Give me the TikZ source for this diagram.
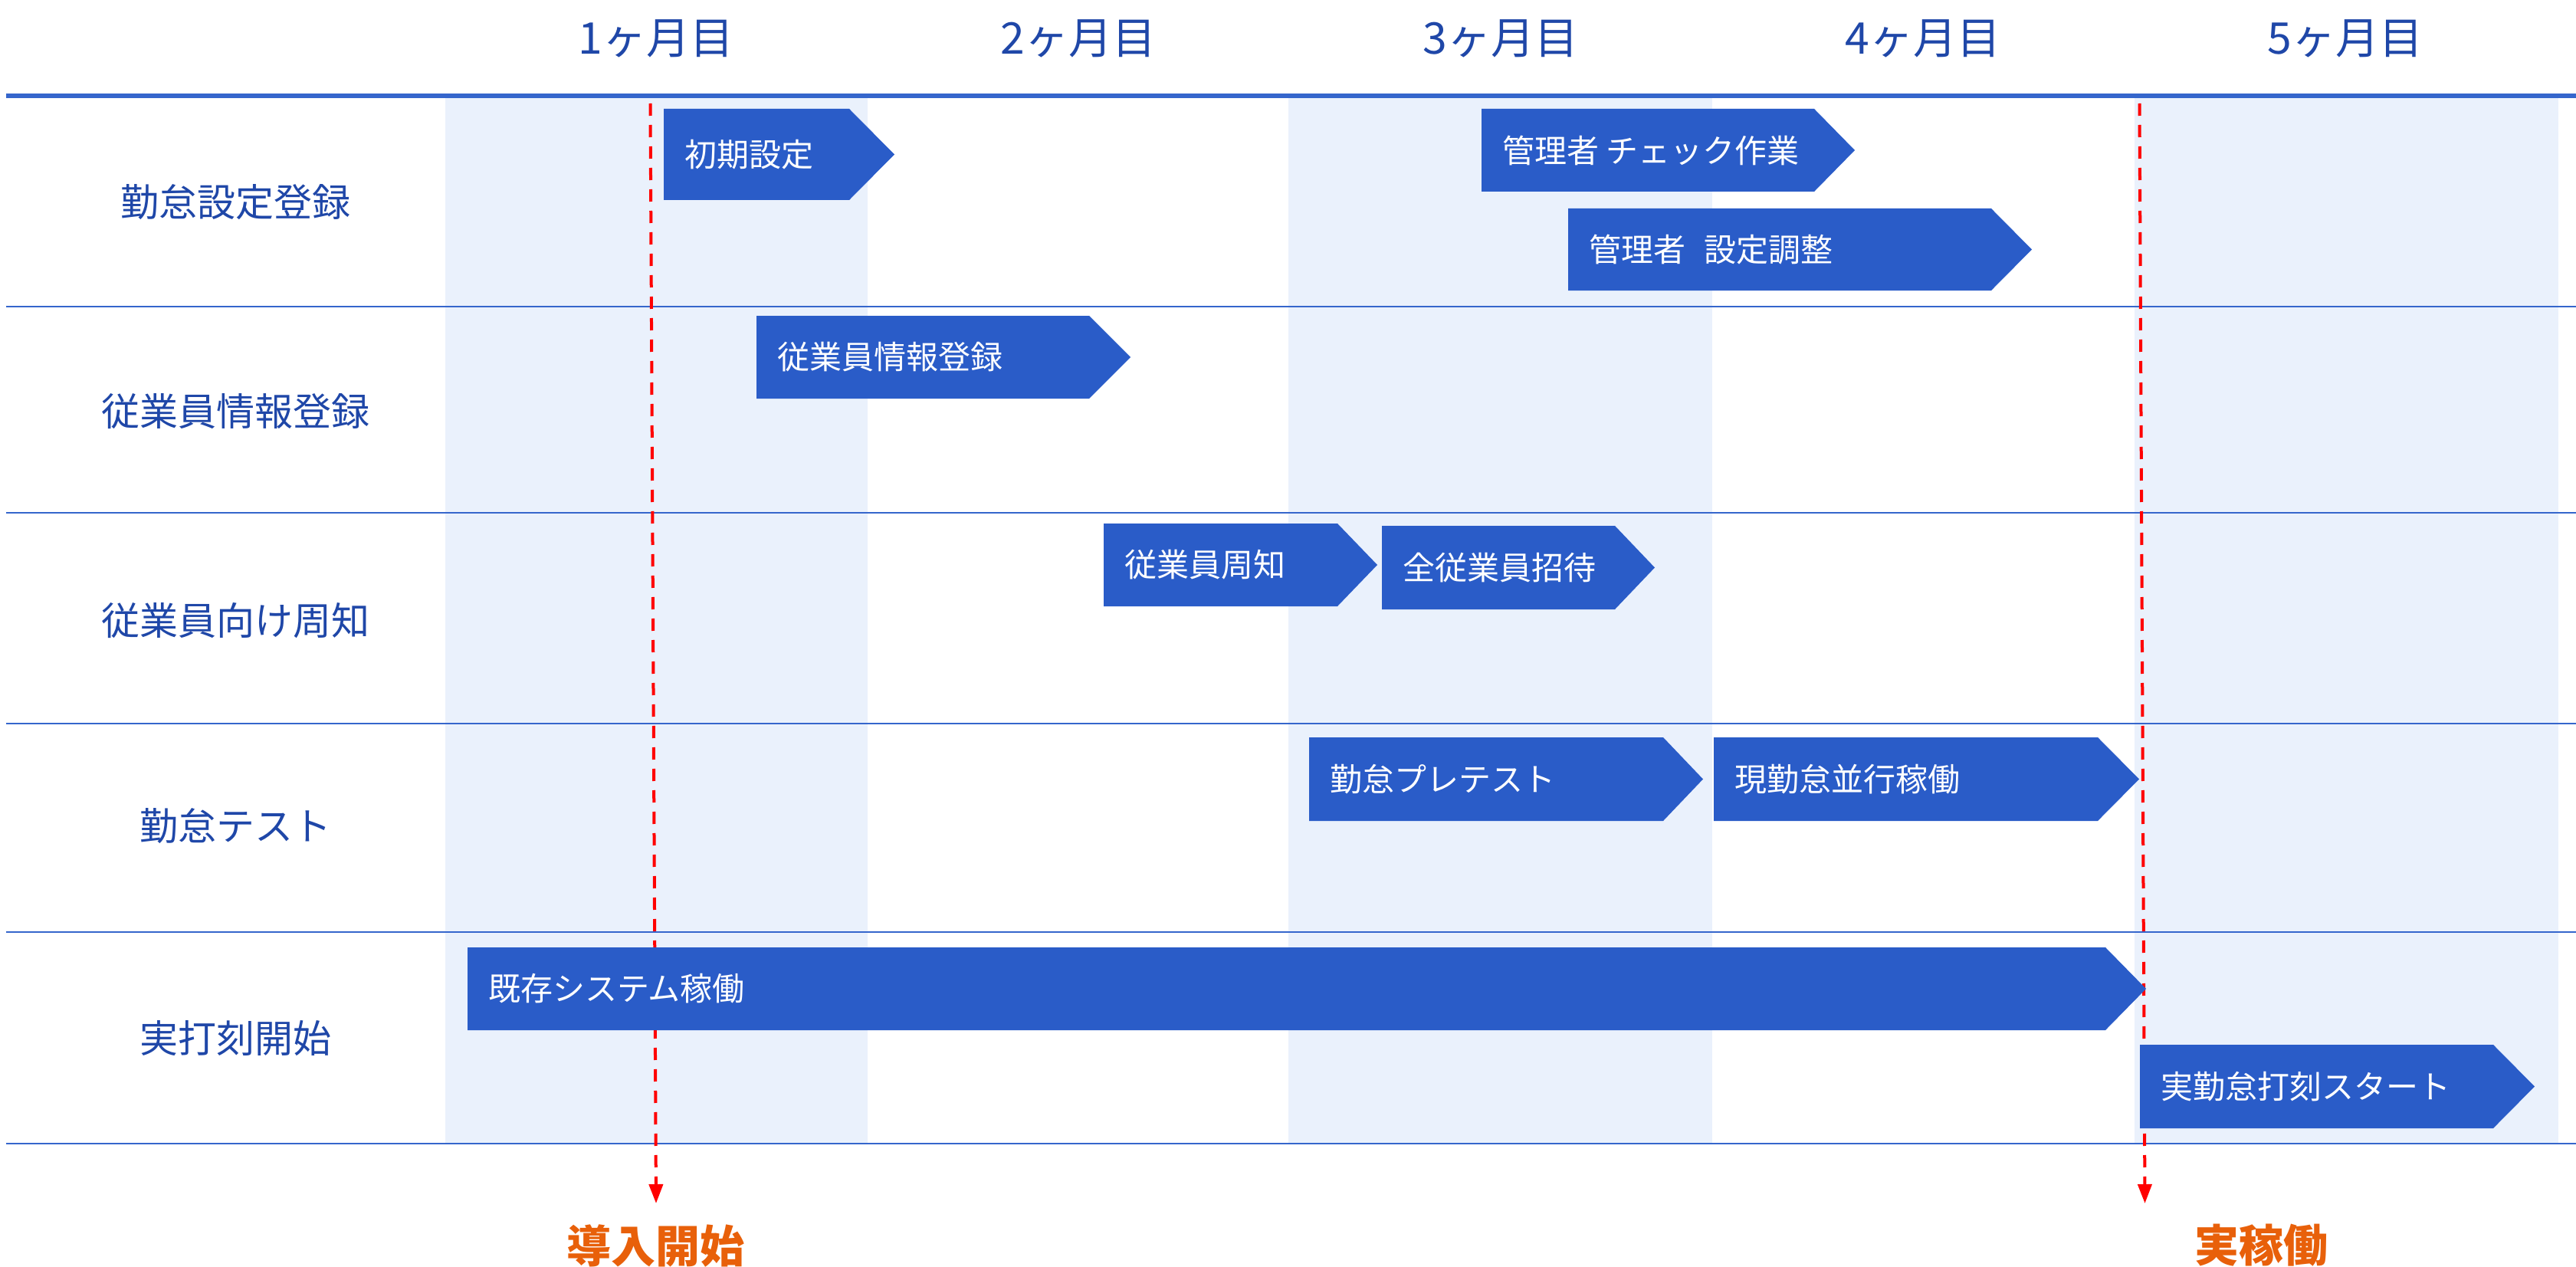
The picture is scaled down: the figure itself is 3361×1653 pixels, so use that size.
\documentclass[tikz,border=0pt]{standalone}
\usepackage{fontspec}
\setmainfont{Noto Sans CJK JP}
\usetikzlibrary{arrows.meta}
\definecolor{boxblue}{HTML}{2A5CC8}
\definecolor{labelblue}{HTML}{1F47A8}
\definecolor{lineblue}{HTML}{3566CC}
\definecolor{shadecol}{HTML}{EAF1FC}
\definecolor{mkred}{HTML}{FF0000}
\definecolor{mkorange}{HTML}{E8600A}
\tikzset{
  taskfill/.style={fill=boxblue},
  tasktext/.style={text=white, font=\fontsize{42}{50}\selectfont, inner sep=0pt, anchor=west},
  rowlabel/.style={text=labelblue, font=\fontsize{50}{60}\selectfont, inner sep=0pt},
  monthlabel/.style={text=labelblue, font=\fontsize{57}{68}\selectfont, inner sep=0pt},
  marklabel/.style={text=mkorange, font=\fontsize{58}{70}\selectfont\bfseries, inner sep=0pt},
  rowline/.style={draw=lineblue, line width=2.6pt},
  headline/.style={draw=lineblue, line width=6pt},
  shadeband/.style={fill=shadecol},
  markline/.style={draw=mkred, line width=4pt, dash pattern=on 16pt off 12pt, -{Triangle[length=25pt,width=18pt]}},
}
\newcommand\taskbar[7]{%
  \fill[taskfill] (#2,#5) -- (#3,#5) -- (#4,{(#5+#6)/2}) -- (#3,#6) -- (#2,#6) -- cycle;
  \node[tasktext] (#1) at ({#2+27},{(#5+#6)/2}) {#7};
}
\begin{document}
\begin{tikzpicture}[x=1pt,y=-1pt]
\useasboundingbox (0,0) rectangle (3361,1653);
\fill[white] (0,0) rectangle (3361,1653);
% shaded month bands
\fill[shadeband] (581,128) rectangle (1132,1492);
\fill[shadeband] (1681,128) rectangle (2234,1492);
\fill[shadeband] (2785,128) rectangle (3338,1492);
% grid lines
\coordinate (hl) at (8,125); \coordinate (hr) at (3361,125);
\draw[headline] (hl) -- (hr);
\foreach \yy/\nm in {400/a,669/b,944/c,1216/d,1492/e}{
  \coordinate (rl\nm) at (8,\yy); \coordinate (rr\nm) at (3361,\yy);
  \draw[rowline] (rl\nm) -- (rr\nm);
}
% month headers
\node[monthlabel] (m1) at (856,50) {1ヶ月目};
\node[monthlabel] (m2) at (1407,50) {2ヶ月目};
\node[monthlabel] (m3) at (1958,50) {3ヶ月目};
\node[monthlabel] (m4) at (2509,50) {4ヶ月目};
\node[monthlabel] (m5) at (3060,50) {5ヶ月目};
% row labels
\node[rowlabel] (r1) at (307,264) {勤怠設定登録};
\node[rowlabel] (r2) at (307,537) {従業員情報登録};
\node[rowlabel] (r3) at (307,810) {従業員向け周知};
\node[rowlabel] (r4) at (307,1078) {勤怠テスト};
\node[rowlabel] (r5) at (307,1355) {実打刻開始};
% milestone markers (behind the bars)
\coordinate (s1top) at (848.5,135); \coordinate (s1tip) at (856,1570);
\coordinate (s2top) at (2791.5,135); \coordinate (s2tip) at (2798.5,1570);
\draw[markline] (s1top) -- (s1tip);
\draw[markline] (s2top) -- (s2tip);
\node[marklabel] (lab1) at (855,1625) {導入開始};
\node[marklabel] (lab2) at (2950,1625) {実稼働};
% task bars
\taskbar{t1}{866}{1108}{1167}{142}{261}{初期設定}
\taskbar{t2}{1933}{2367}{2420}{142}{250}{管理者 チェック作業}
\taskbar{t3}{2046}{2598}{2651}{272}{379}{管理者\hspace{24pt}設定調整}
\taskbar{t4}{987}{1421}{1475}{412}{520}{従業員情報登録}
\taskbar{t5}{1440}{1745}{1797}{683}{791}{従業員周知}
\taskbar{t6}{1803}{2107}{2159}{686}{795}{全従業員招待}
\taskbar{t7}{1708}{2170}{2222}{962}{1071}{勤怠プレテスト}
\taskbar{t8}{2236}{2737}{2791}{962}{1071}{現勤怠並行稼働}
\taskbar{t9}{610}{2747}{2800}{1236}{1344}{既存システム稼働}
\taskbar{t10}{2792}{3253}{3307}{1363}{1472}{実勤怠打刻スタート}
\end{tikzpicture}
\end{document}
